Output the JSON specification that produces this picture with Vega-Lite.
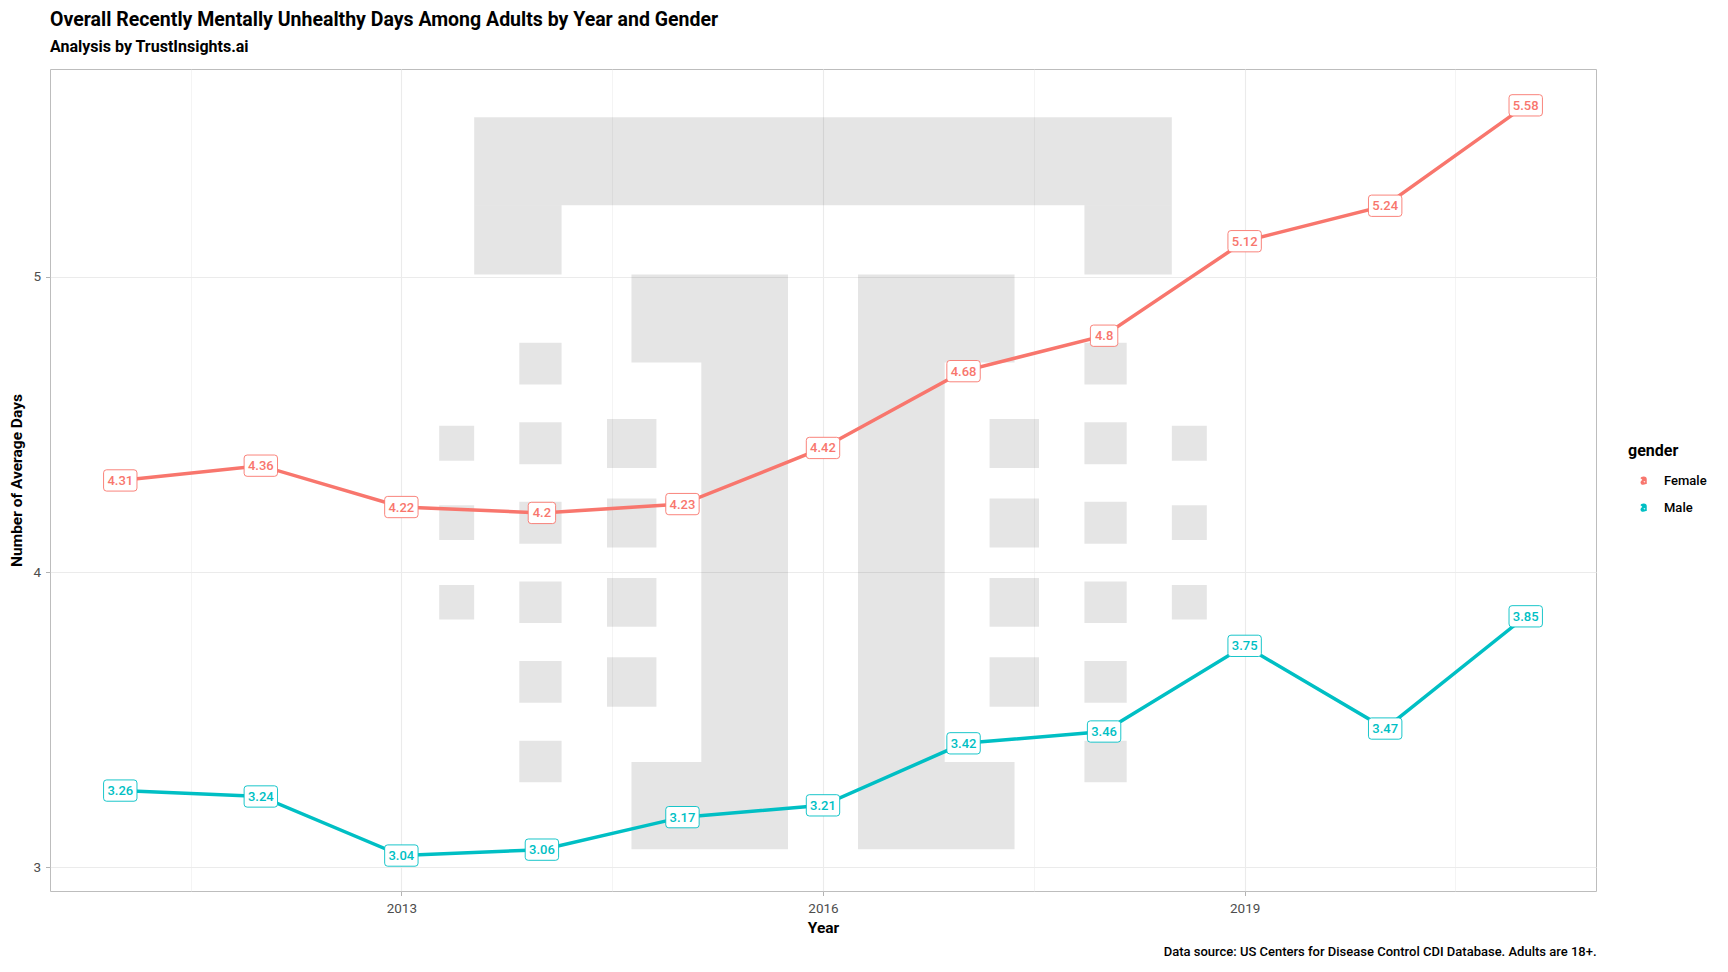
{
  "$schema": "https://vega.github.io/schema/vega-lite/v6.json",
  "width": 1546,
  "height": 822,
  "autosize": {"type": "none"},
  "padding": {"left": 50, "top": 69, "right": 132, "bottom": 81},
  "background": "white",
  "title": {
    "text": "Overall Recently Mentally Unhealthy Days Among Adults by Year and Gender",
    "subtitle": "Analysis by TrustInsights.ai",
    "anchor": "start",
    "frame": "group",
    "font": "Roboto",
    "fontSize": 19.5,
    "fontWeight": "bold",
    "color": "#000000",
    "subtitleFont": "Roboto",
    "subtitleFontSize": 16,
    "subtitleFontWeight": "bold",
    "subtitleColor": "#000000",
    "subtitlePadding": 9,
    "offset": 13
  },
  "config": {
    "font": "Roboto",
    "view": {"stroke": "#bdbdbd", "strokeWidth": 1},
    "axis": {
      "gridColor": "#EBEBEB",
      "tickColor": "#b3b3b3",
      "tickSize": 4.5,
      "labelColor": "#4D4D4D",
      "labelFontSize": 13.5,
      "titleColor": "#000000",
      "titleFontSize": 15.5,
      "titleFontWeight": "bold",
      "domain": false,
      "labelFlush": false
    },
    "legend": {
      "titleFontSize": 16,
      "titleFontWeight": "bold",
      "titleColor": "#000000",
      "labelFontSize": 13,
      "labelFontWeight": 500,
      "labelColor": "#000000"
    }
  },
  "datasets": {
    "series": [
      {"year": 2011, "gender": "Female", "value": 4.31},
      {"year": 2012, "gender": "Female", "value": 4.36},
      {"year": 2013, "gender": "Female", "value": 4.22},
      {"year": 2014, "gender": "Female", "value": 4.2},
      {"year": 2015, "gender": "Female", "value": 4.23},
      {"year": 2016, "gender": "Female", "value": 4.42},
      {"year": 2017, "gender": "Female", "value": 4.68},
      {"year": 2018, "gender": "Female", "value": 4.8},
      {"year": 2019, "gender": "Female", "value": 5.12},
      {"year": 2020, "gender": "Female", "value": 5.24},
      {"year": 2021, "gender": "Female", "value": 5.58},
      {"year": 2011, "gender": "Male", "value": 3.26},
      {"year": 2012, "gender": "Male", "value": 3.24},
      {"year": 2013, "gender": "Male", "value": 3.04},
      {"year": 2014, "gender": "Male", "value": 3.06},
      {"year": 2015, "gender": "Male", "value": 3.17},
      {"year": 2016, "gender": "Male", "value": 3.21},
      {"year": 2017, "gender": "Male", "value": 3.42},
      {"year": 2018, "gender": "Male", "value": 3.46},
      {"year": 2019, "gender": "Male", "value": 3.75},
      {"year": 2020, "gender": "Male", "value": 3.47},
      {"year": 2021, "gender": "Male", "value": 3.85}
    ],
    "logo": [
      {"x0": 2013.518, "x1": 2018.482, "y0": 5.242, "y1": 5.54},
      {"x0": 2013.518, "x1": 2014.14, "y0": 5.007, "y1": 5.242},
      {"x0": 2017.86, "x1": 2018.482, "y0": 5.007, "y1": 5.242},
      {"x0": 2014.637, "x1": 2015.751, "y0": 4.709, "y1": 5.007},
      {"x0": 2015.134, "x1": 2015.751, "y0": 3.357, "y1": 4.709},
      {"x0": 2014.637, "x1": 2015.751, "y0": 3.061, "y1": 3.357},
      {"x0": 2016.249, "x1": 2017.363, "y0": 4.709, "y1": 5.007},
      {"x0": 2016.249, "x1": 2016.866, "y0": 3.357, "y1": 4.709},
      {"x0": 2016.249, "x1": 2017.363, "y0": 3.061, "y1": 3.357},
      {"x0": 2013.269, "x1": 2013.518, "y0": 4.377, "y1": 4.495},
      {"x0": 2013.269, "x1": 2013.518, "y0": 4.108, "y1": 4.226},
      {"x0": 2013.269, "x1": 2013.518, "y0": 3.839, "y1": 3.956},
      {"x0": 2018.482, "x1": 2018.731, "y0": 4.377, "y1": 4.495},
      {"x0": 2018.482, "x1": 2018.731, "y0": 4.108, "y1": 4.226},
      {"x0": 2018.482, "x1": 2018.731, "y0": 3.839, "y1": 3.956},
      {"x0": 2013.839, "x1": 2014.14, "y0": 4.635, "y1": 4.776},
      {"x0": 2013.839, "x1": 2014.14, "y0": 4.365, "y1": 4.507},
      {"x0": 2013.839, "x1": 2014.14, "y0": 4.096, "y1": 4.238},
      {"x0": 2013.839, "x1": 2014.14, "y0": 3.827, "y1": 3.968},
      {"x0": 2013.839, "x1": 2014.14, "y0": 3.557, "y1": 3.699},
      {"x0": 2013.839, "x1": 2014.14, "y0": 3.288, "y1": 3.429},
      {"x0": 2017.86, "x1": 2018.161, "y0": 4.635, "y1": 4.776},
      {"x0": 2017.86, "x1": 2018.161, "y0": 4.365, "y1": 4.507},
      {"x0": 2017.86, "x1": 2018.161, "y0": 4.096, "y1": 4.238},
      {"x0": 2017.86, "x1": 2018.161, "y0": 3.827, "y1": 3.968},
      {"x0": 2017.86, "x1": 2018.161, "y0": 3.557, "y1": 3.699},
      {"x0": 2017.86, "x1": 2018.161, "y0": 3.288, "y1": 3.429},
      {"x0": 2014.463, "x1": 2014.815, "y0": 4.352, "y1": 4.518},
      {"x0": 2014.463, "x1": 2014.815, "y0": 4.083, "y1": 4.249},
      {"x0": 2014.463, "x1": 2014.815, "y0": 3.815, "y1": 3.98},
      {"x0": 2014.463, "x1": 2014.815, "y0": 3.544, "y1": 3.711},
      {"x0": 2017.185, "x1": 2017.537, "y0": 4.352, "y1": 4.518},
      {"x0": 2017.185, "x1": 2017.537, "y0": 4.083, "y1": 4.249},
      {"x0": 2017.185, "x1": 2017.537, "y0": 3.815, "y1": 3.98},
      {"x0": 2017.185, "x1": 2017.537, "y0": 3.544, "y1": 3.711}
    ]
  },
  "resolve": {"axis": {"x": "independent", "y": "independent"}},
  "layer": [
    {
      "data": {"name": "logo"},
      "mark": {"type": "rect", "fill": "#000000", "opacity": 0.1},
      "encoding": {
        "x": {
          "field": "x0", "type": "quantitative",
          "scale": {"domain": [2010.5, 2021.5], "nice": false, "zero": false},
          "axis": {
            "orient": "bottom",
            "title": "Data source: US Centers for Disease Control CDI Database. Adults are 18+.",
            "labels": false, "ticks": false, "domain": false, "grid": false,
            "titleAnchor": "end", "titleAlign": "right",
            "titleX": 1546, "titleY": 60, "titleBaseline": "middle",
            "titleFontSize": 13, "titleFontWeight": 500, "titleColor": "#000000"
          }
        },
        "x2": {"field": "x1"},
        "y": {
          "field": "y0", "type": "quantitative",
          "scale": {"domain": [2.92, 5.703], "nice": false, "zero": false},
          "axis": null
        },
        "y2": {"field": "y1"}
      }
    },
    {
      "data": {"name": "series"},
      "encoding": {
        "x": {
          "field": "year", "type": "quantitative",
          "scale": {"domain": [2010.5, 2021.5], "nice": false, "zero": false},
          "axis": {
            "orient": "bottom",
            "grid": true,
            "title": "Year",
            "values": [2011.5, 2013, 2014.5, 2016, 2017.5, 2019, 2020.5],
            "format": "d",
            "labelExpr": "datum.value % 1 == 0 ? datum.label : ''",
            "gridWidth": {"condition": {"test": "datum.value % 1 != 0", "value": 0.55}, "value": 1.1},
            "tickOpacity": {"condition": {"test": "datum.value % 1 != 0", "value": 0}, "value": 1},
            "labelPadding": 6,
            "titlePadding": 5
          }
        },
        "y": {
          "field": "value", "type": "quantitative",
          "scale": {"domain": [2.92, 5.703], "nice": false, "zero": false},
          "axis": {
            "orient": "left",
            "grid": true,
            "title": "Number of Average Days",
            "values": [3, 3.5, 4, 4.5, 5, 5.5],
            "format": "d",
            "labelExpr": "datum.value % 1 == 0 ? datum.label : ''",
            "gridWidth": {"condition": {"test": "datum.value % 1 != 0", "value": 0.55}, "value": 1.1},
            "tickOpacity": {"condition": {"test": "datum.value % 1 != 0", "value": 0}, "value": 1},
            "labelPadding": 5,
            "titlePadding": 8
          }
        }
      },
      "layer": [
        {
          "mark": {"type": "line", "strokeWidth": 3.5},
          "encoding": {
            "color": {
              "field": "gender", "type": "nominal",
              "scale": {"domain": ["Female", "Male"], "range": ["#F8766D", "#00BFC4"]},
              "legend": {
                "title": "gender",
                "orient": "none",
                "legendX": 1578,
                "legendY": 374,
                "padding": 0,
                "symbolType": "M -0.7 -0.55 C -0.5 -1.1 0.7 -1.1 0.7 -0.4 L 0.7 1 M 0.7 -0.05 C -0.9 -0.1 -0.9 1 -0.1 1 C 0.3 1 0.6 0.8 0.7 0.5",
                "symbolSize": 49,
                "symbolStrokeWidth": 1.6,
                "symbolFillColor": "transparent",
                "symbolOffset": 9,
                "labelOffset": 14,
                "rowPadding": 12,
                "titlePadding": 15
              }
            }
          }
        },
        {
          "mark": {"type": "point", "filled": true, "fill": "white", "opacity": 1, "size": 400, "strokeWidth": 0.9},
          "encoding": {
            "stroke": {
              "field": "gender", "type": "nominal",
              "scale": {"domain": ["Female", "Male"], "range": ["#F8766D", "#00BFC4"]},
              "legend": null
            },
            "shape": {
              "condition": {
                "test": "length(toString(datum.value)) < 4",
                "value": "M -1.07 -1.065 L 1.07 -1.065 Q 1.37 -1.065 1.37 -0.765 L 1.37 0.765 Q 1.37 1.065 1.07 1.065 L -1.07 1.065 Q -1.37 1.065 -1.37 0.765 L -1.37 -0.765 Q -1.37 -1.065 -1.07 -1.065 Z"
              },
              "value": "M -1.37 -1.065 L 1.37 -1.065 Q 1.67 -1.065 1.67 -0.765 L 1.67 0.765 Q 1.67 1.065 1.37 1.065 L -1.37 1.065 Q -1.67 1.065 -1.67 0.765 L -1.67 -0.765 Q -1.67 -1.065 -1.37 -1.065 Z"
            }
          }
        },
        {
          "mark": {"type": "text", "fontSize": 13, "fontWeight": 500, "align": "center", "baseline": "middle", "dy": 0.5},
          "encoding": {
            "text": {"field": "value", "type": "quantitative"},
            "color": {
              "field": "gender", "type": "nominal",
              "scale": {"domain": ["Female", "Male"], "range": ["#F8766D", "#00BFC4"]},
              "legend": null
            }
          }
        }
      ]
    }
  ]
}
